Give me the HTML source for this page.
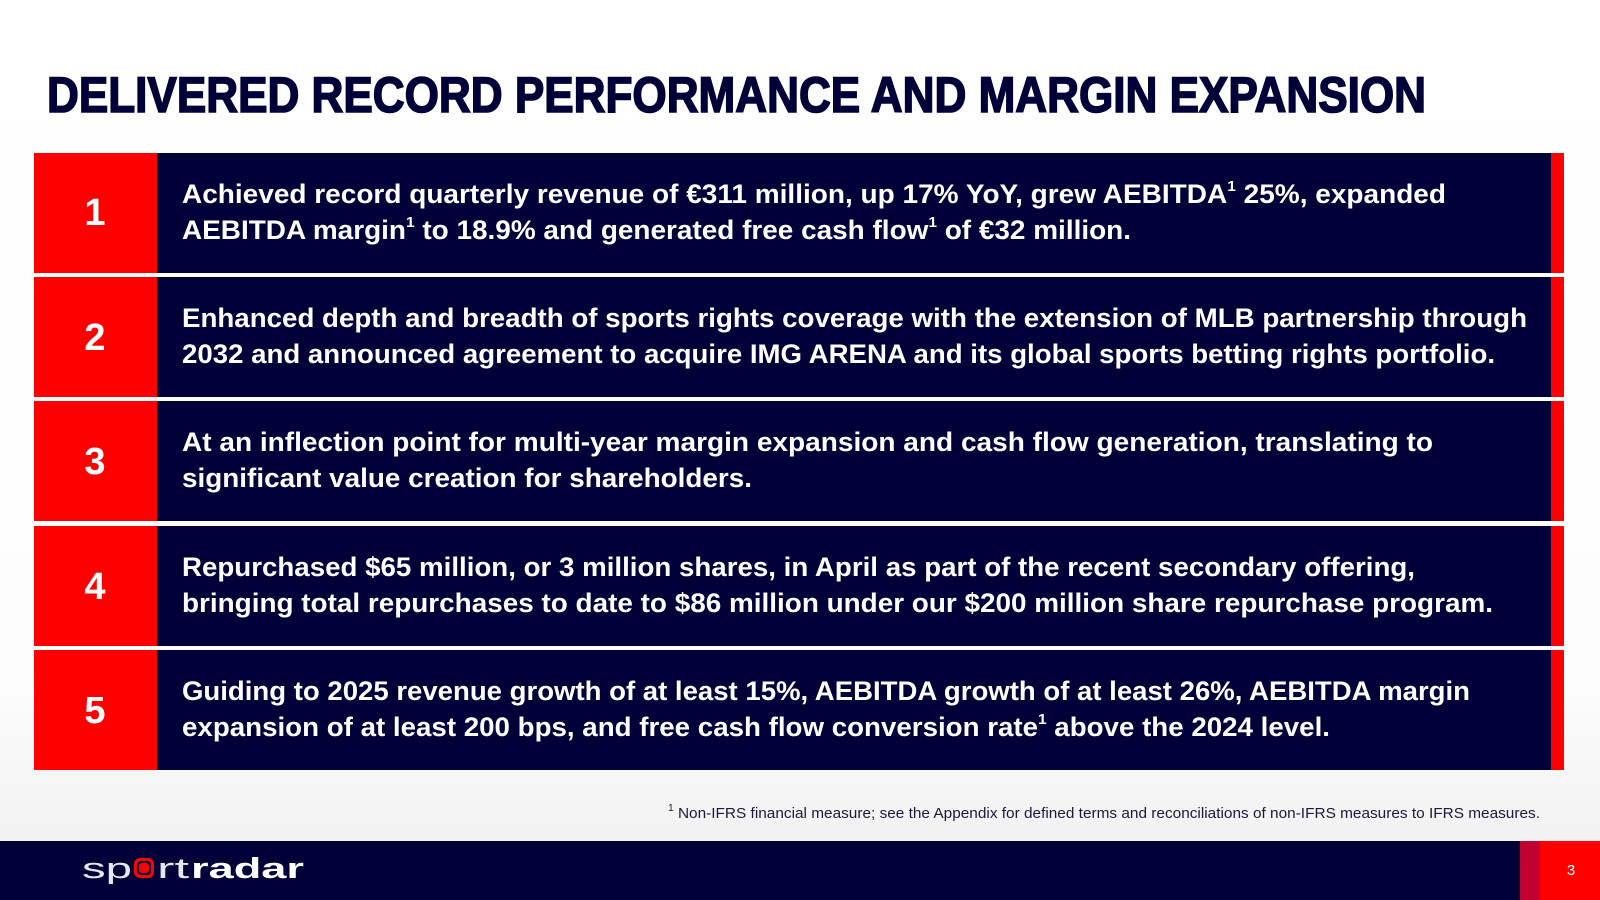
<!DOCTYPE html>
<html><head><meta charset="utf-8"><style>
html,body{margin:0;padding:0;width:1600px;height:900px;overflow:hidden;background:#fff}
svg{display:block}
text{font-family:"Liberation Sans",sans-serif}
</style></head><body>
<svg width="1600" height="900" viewBox="0 0 1600 900">
<defs><linearGradient id="bg" x1="0" y1="0" x2="0" y2="1">
<stop offset="0" stop-color="#ffffff"/><stop offset="0.8" stop-color="#fdfdfd"/><stop offset="1" stop-color="#f2f2f2"/></linearGradient></defs>
<rect x="0" y="0" width="1600" height="841" fill="url(#bg)"/>
<text x="47" y="112" font-size="50" font-weight="bold" fill="#000038" stroke="#000038" stroke-width="1.6" textLength="1379" lengthAdjust="spacingAndGlyphs">DELIVERED RECORD PERFORMANCE AND MARGIN EXPANSION</text>

<g>
<rect x="34" y="153" width="123" height="120" fill="#ff0000"/><rect x="157" y="153" width="1394" height="120" fill="#000038"/><rect x="1551" y="153" width="13" height="120" fill="#ff0000"/>
<text x="95" y="225" font-size="38" font-weight="bold" fill="#fff" text-anchor="middle">1</text>
<text x="182" y="203" font-size="27" font-weight="bold" fill="#fff" textLength="1264" lengthAdjust="spacingAndGlyphs">Achieved record quarterly revenue of €311 million, up 17% YoY,  grew AEBITDA<tspan font-size="15" dy="-12">1</tspan><tspan dy="12"> 25%,  expanded</tspan></text>
<text x="182" y="239" font-size="27" font-weight="bold" fill="#fff" textLength="949" lengthAdjust="spacingAndGlyphs">AEBITDA margin<tspan font-size="15" dy="-12">1</tspan><tspan dy="12"> to 18.9% and generated free cash flow</tspan><tspan font-size="15" dy="-12">1</tspan><tspan dy="12"> of  €32 million.</tspan></text>
</g>
<g>
<rect x="34" y="277" width="123" height="120" fill="#ff0000"/><rect x="157" y="277" width="1394" height="120" fill="#000038"/><rect x="1551" y="277" width="13" height="120" fill="#ff0000"/>
<text x="95" y="350" font-size="38" font-weight="bold" fill="#fff" text-anchor="middle">2</text>
<text x="182" y="327" font-size="27" font-weight="bold" fill="#fff" textLength="1345" lengthAdjust="spacingAndGlyphs">Enhanced depth and breadth of sports rights coverage with the extension of MLB partnership through</text>
<text x="182" y="363" font-size="27" font-weight="bold" fill="#fff" textLength="1313" lengthAdjust="spacingAndGlyphs">2032 and announced agreement to acquire IMG ARENA and its global sports betting rights portfolio.</text>
</g>
<g>
<rect x="34" y="401" width="123" height="120" fill="#ff0000"/><rect x="157" y="401" width="1394" height="120" fill="#000038"/><rect x="1551" y="401" width="13" height="120" fill="#ff0000"/>
<text x="95" y="474" font-size="38" font-weight="bold" fill="#fff" text-anchor="middle">3</text>
<text x="182" y="451" font-size="27" font-weight="bold" fill="#fff" textLength="1251" lengthAdjust="spacingAndGlyphs">At an inflection point for multi-year margin expansion and cash flow generation, translating to</text>
<text x="182" y="487" font-size="27" font-weight="bold" fill="#fff" textLength="570" lengthAdjust="spacingAndGlyphs">significant value creation for shareholders.</text>
</g>
<g>
<rect x="34" y="526" width="123" height="120" fill="#ff0000"/><rect x="157" y="526" width="1394" height="120" fill="#000038"/><rect x="1551" y="526" width="13" height="120" fill="#ff0000"/>
<text x="95" y="599" font-size="38" font-weight="bold" fill="#fff" text-anchor="middle">4</text>
<text x="182" y="576" font-size="27" font-weight="bold" fill="#fff" textLength="1233" lengthAdjust="spacingAndGlyphs">Repurchased $65 million, or 3 million shares, in April as part of the recent secondary offering,</text>
<text x="182" y="612" font-size="27" font-weight="bold" fill="#fff" textLength="1311" lengthAdjust="spacingAndGlyphs">bringing total repurchases to date to $86 million under our $200 million share repurchase program.</text>
</g>
<g>
<rect x="34" y="650" width="123" height="120" fill="#ff0000"/><rect x="157" y="650" width="1394" height="120" fill="#000038"/><rect x="1551" y="650" width="13" height="120" fill="#ff0000"/>
<text x="95" y="723" font-size="38" font-weight="bold" fill="#fff" text-anchor="middle">5</text>
<text x="182" y="700" font-size="27" font-weight="bold" fill="#fff" textLength="1288" lengthAdjust="spacingAndGlyphs">Guiding to 2025 revenue growth of at least 15%, AEBITDA growth of at least 26%, AEBITDA margin</text>
<text x="182" y="736" font-size="27" font-weight="bold" fill="#fff" textLength="1148" lengthAdjust="spacingAndGlyphs">expansion of at least 200 bps, and free cash flow conversion rate<tspan font-size="15" dy="-12">1</tspan><tspan dy="12"> above the 2024 level.</tspan></text>
</g>

<text x="668" y="818" font-size="15" fill="#1a1a3a" textLength="872" lengthAdjust="spacingAndGlyphs"><tspan font-size="10" dy="-7">1</tspan><tspan dy="7"> Non-IFRS financial measure; see the Appendix for defined terms and reconciliations of non-IFRS measures to IFRS measures.</tspan></text>

<rect x="0" y="841" width="1600" height="59" fill="#000038"/>
<rect x="1520" y="841" width="20" height="59" fill="#c0002e"/>
<rect x="1540" y="841" width="60" height="59" fill="#ff0000"/>
<text x="1571" y="875" font-size="15" fill="#fff" text-anchor="middle">3</text>
<g>
<text x="82" y="878" font-size="29" fill="#e6e6ee" textLength="50" lengthAdjust="spacingAndGlyphs">sp</text>
<rect x="134" y="858" width="20" height="20" rx="6" fill="#ff0000"/>
<rect x="137" y="861" width="14" height="14" rx="4" fill="#000038"/>
<rect x="139" y="863" width="10" height="10" rx="3" fill="#ff0000"/>
<text x="157" y="878" font-size="29" fill="#e6e6ee" textLength="32" lengthAdjust="spacingAndGlyphs">rt</text>
<text x="191" y="878" font-size="29" font-weight="bold" fill="#ffffff" textLength="113" lengthAdjust="spacingAndGlyphs">radar</text>
</g>
</svg>
</body></html>
